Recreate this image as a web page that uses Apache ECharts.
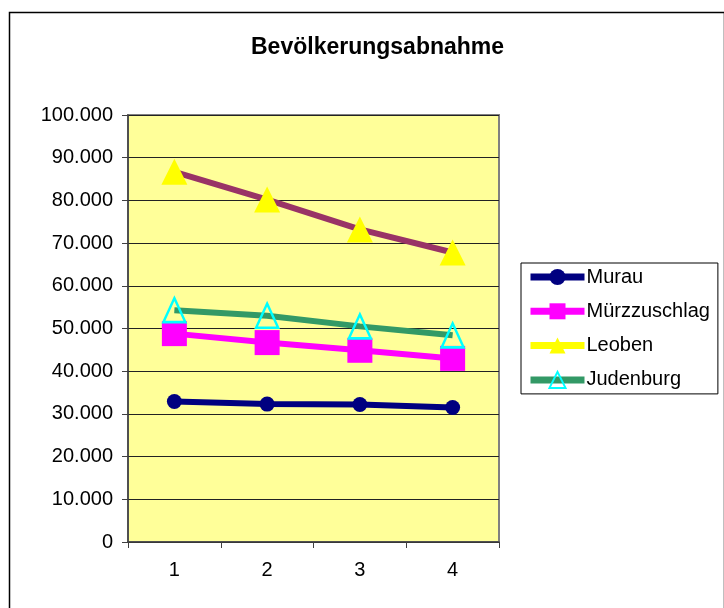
<!DOCTYPE html>
<html>
<head>
<meta charset="utf-8">
<script src="https://cdn.jsdelivr.net/npm/echarts@6/dist/echarts.min.js"></script>
<style>html,body{margin:0;padding:0;background:#fff;}#c{width:724px;height:608px;}</style>
</head>
<body>
<div id="c"></div>
<script>
const categories = ['1', '2', '3', '4'];
const murau = [32900, 32300, 32200, 31500];
const muerzzuschlag = [48800, 46700, 44900, 43000];
const leoben = [86700, 80200, 73200, 67800];
const judenburg = [54300, 53000, 50500, 48400];
const seriesNames = ['Murau', 'Mürzzuschlag', 'Leoben', 'Judenburg'];

const FONT = '"Liberation Sans", Arial, sans-serif';
const chart = echarts.init(document.getElementById('c'), null, {renderer: 'canvas'});
function fmt(v) { return String(v).replace(/\B(?=(\d{3})+(?!\d))/g, '.'); }

chart.setOption({
  animation: false,
  backgroundColor: '#ffffff',
  graphic: [{
    type: 'rect', left: 7, top: 10, silent: true,
    shape: {x: 0, y: 0, width: 715, height: 700},
    style: {fill: 'none', stroke: '#000', lineWidth: 1.5}
  }],
  title: {
    text: 'Bevölkerungsabnahme', left: 246, top: 31,
    textStyle: {fontFamily: FONT, fontWeight: 'bold', fontSize: 23, color: '#000'}
  },
  grid: {
    left: 128, right: 225, top: 115, bottom: 66,
    show: true, backgroundColor: '#FFFF99', borderColor: '#808080', borderWidth: 2
  },
  legend: {
    orient: 'vertical', left: 521, top: 263,
    padding: [4, 8, 4, 6],
    itemWidth: 54, itemHeight: 20, itemGap: 14.3,
    borderColor: '#000', borderWidth: 1,
    lineStyle: {width: 7},
    textStyle: {fontFamily: FONT, fontSize: 20, color: '#000', lineHeight: 20, padding: [0, 0, 0, -3]},
    data: [
      {name: 'Murau'},
      {name: 'Mürzzuschlag'},
      {name: 'Leoben', lineStyle: {color: '#FFFF00', width: 7}},
      {name: 'Judenburg'}
    ]
  },
  xAxis: {
    type: 'category', data: categories, boundaryGap: true,
    axisLine: {lineStyle: {color: '#404040', width: 1.5}},
    axisTick: {show: true, length: 6, lineStyle: {color: '#404040'}},
    axisLabel: {fontFamily: FONT, fontSize: 20, color: '#000', margin: 18},
    splitLine: {show: false}
  },
  yAxis: {
    type: 'value', min: 0, max: 100000, interval: 10000,
    axisLine: {show: true, lineStyle: {color: '#404040', width: 1.5}},
    axisTick: {show: true, length: 6, lineStyle: {color: '#404040'}},
    axisLabel: {fontFamily: FONT, fontSize: 20, color: '#000', margin: 15, formatter: fmt},
    splitLine: {show: true, lineStyle: {color: '#222', width: 1}}
  },
  series: [
    {
      name: seriesNames[0], type: 'line', data: murau,
      symbol: 'circle', symbolSize: 15,
      lineStyle: {color: '#000080', width: 6},
      itemStyle: {color: '#000080'}
    },
    {
      name: seriesNames[1], type: 'line', data: muerzzuschlag,
      symbol: 'rect', symbolSize: 25,
      lineStyle: {color: '#FF00FF', width: 6},
      itemStyle: {color: '#FF00FF'}
    },
    {
      name: seriesNames[2], type: 'line', data: leoben,
      symbol: 'triangle', symbolSize: 26,
      lineStyle: {color: '#993366', width: 6},
      itemStyle: {color: '#FFFF00'}
    },
    {
      name: seriesNames[3], type: 'line', data: judenburg,
      symbol: 'triangle', symbolSize: [22, 24],
      lineStyle: {color: '#339966', width: 6},
      itemStyle: {color: 'rgba(0,0,0,0)', borderColor: '#00FFFF', borderWidth: 2.5}
    }
  ]
});
</script>
</body>
</html>
